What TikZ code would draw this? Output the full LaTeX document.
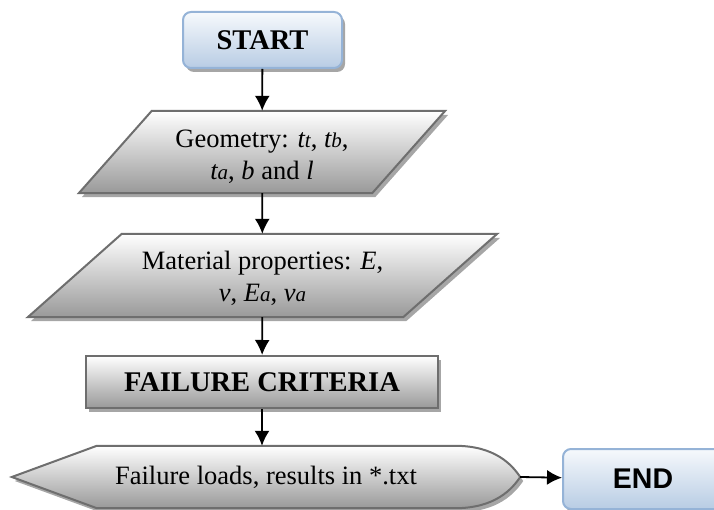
\documentclass[tikz,border=0pt]{standalone}
\usepackage{fontspec}
\setmainfont{Liberation Serif}
\newfontfamily\arialfont{Liberation Sans}
\usetikzlibrary{arrows.meta,shadows}
\definecolor{boxblue}{HTML}{95B3D7}
\definecolor{lightblue}{HTML}{F6F9FC}
\definecolor{midblue}{HTML}{B8CCE4}
\definecolor{edgegray}{HTML}{6E6E6E}
\newcommand{\smallidx}[2]{\textit{#1{\fontsize{21}{21}\selectfont #2}}}
\tikzset{
  txt/.style={font=\fontsize{26.5}{32}\selectfont,align=center},
  bigtxt/.style={font=\fontsize{28.5}{33}\selectfont\bfseries},
  flowarrow/.style={line width=1.8pt,-{Latex[length=15pt,width=15pt]}},
  boxshadow/.style={drop shadow={shadow xshift=3pt,shadow yshift=-4pt,fill=black!35,opacity=1}},
  grayshade/.style={draw=edgegray,line width=2pt,top color=white,bottom color=black!40,boxshadow},
  bluebox/.style={draw=boxblue,line width=2pt,rounded corners=8pt,top color=lightblue,bottom color=midblue,boxshadow},
  frame/.style={inner sep=0pt},
}
\begin{document}
\begin{tikzpicture}[x=1pt,y=1pt]
\useasboundingbox (0,0) rectangle (714,-510);
% boxes
\node[bluebox,bigtxt,minimum width=159pt,minimum height=56pt] (start) at (262.5,-40) {START};
\node[frame,minimum width=293pt,minimum height=82pt] (geo) at (262,-152) {};
\path[grayshade] ([xshift=-36.5pt]geo.south west) -- ([xshift=36.5pt]geo.north west)
  -- ([xshift=36.5pt]geo.north east) -- ([xshift=-36.5pt]geo.south east) -- cycle;
\node[txt] (geotext) at ([yshift=-5pt]geo.center)
  {Geometry: \smallidx{t}{t}, \smallidx{t}{b},\\ \smallidx{t}{a}, \textit{b} and \textit{l}};
\node[frame,minimum width=375pt,minimum height=83pt] (mat) at (262.5,-275.5) {};
\path[grayshade] ([xshift=-47pt]mat.south west) -- ([xshift=47pt]mat.north west)
  -- ([xshift=47pt]mat.north east) -- ([xshift=-47pt]mat.south east) -- cycle;
\node[txt] (mattext) at ([yshift=-3pt]mat.center)
  {Material properties: \textit{E},\\ \textit{v}, \smallidx{E}{a}, \smallidx{v}{a}};
\node[grayshade,bigtxt,minimum width=352pt,minimum height=52pt] (fail) at (262,-382) {FAILURE CRITERIA};
% display shape
\node[frame,minimum width=508pt,minimum height=62pt] (load) at (266,-477) {};
\path[grayshade] (load.west) -- ([xshift=85pt]load.north west) -- ([xshift=-65pt]load.north east)
  .. controls ([xshift=-25pt]load.north east) and ([xshift=-8pt,yshift=12pt]load.east) .. (load.east)
  .. controls ([xshift=-8pt,yshift=-12pt]load.east) and ([xshift=-25pt]load.south east) .. ([xshift=-65pt]load.south east)
  -- ([xshift=85pt]load.south west) -- cycle;
\node[txt] (loadtext) at (load) {Failure loads, results in *.txt};
\node[bluebox,font=\fontsize{28.5}{33}\selectfont\arialfont\bfseries,minimum width=160pt,minimum height=60pt] (end) at (643,-479) {END};
% arrows
\draw[flowarrow] (start) -- (geo);
\draw[flowarrow] (geo) -- (mat);
\draw[flowarrow] (mat) -- (fail);
\draw[flowarrow] (fail.south) -- (fail.south |- load.north);
\draw[flowarrow] (load.east) -- (end);
\end{tikzpicture}
\end{document}
